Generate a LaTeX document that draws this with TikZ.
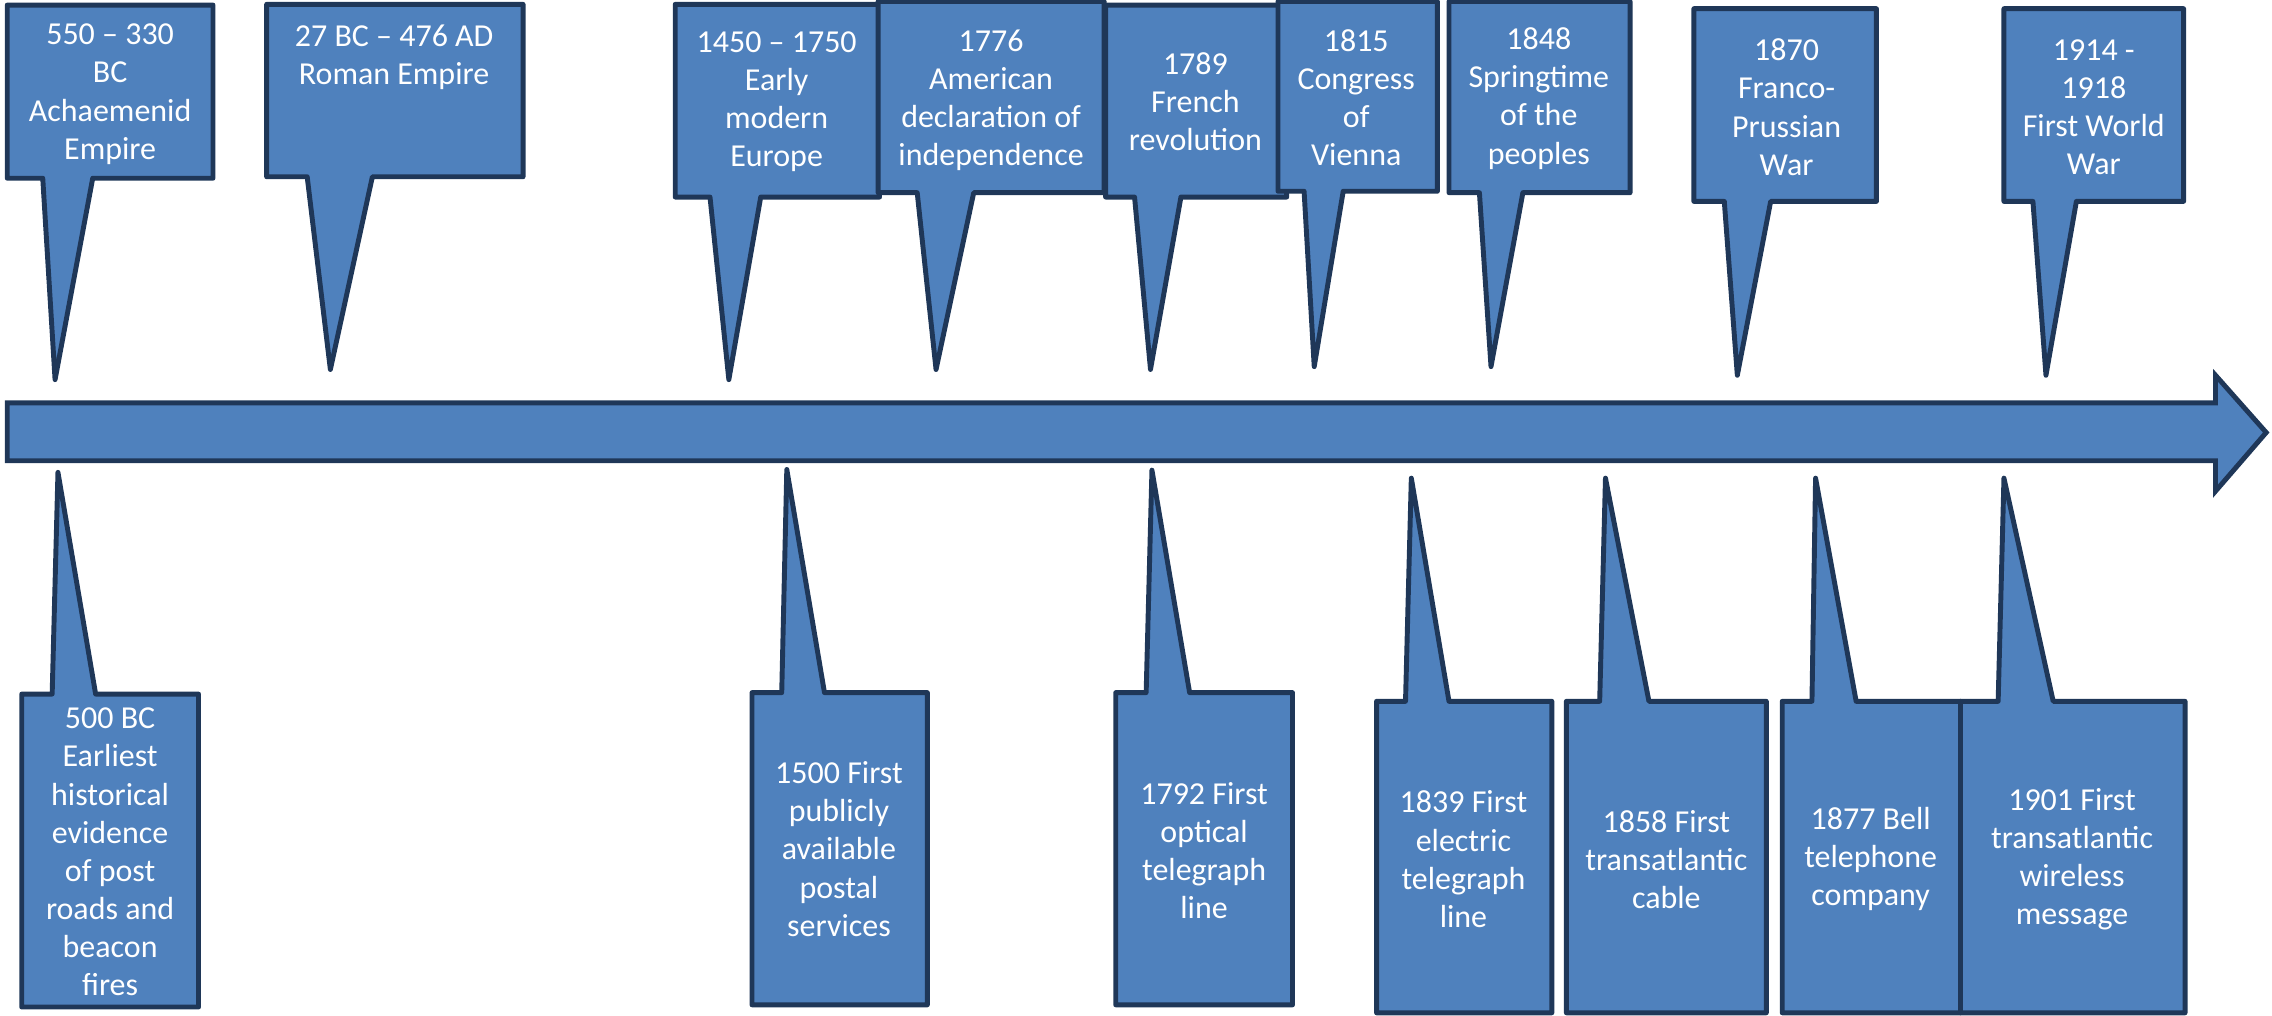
\documentclass[tikz,border=0pt]{standalone}
\usepackage{fontspec}
\setmainfont{Carlito}
\usetikzlibrary{positioning}

\definecolor{calblue}{HTML}{4F81BD}
\definecolor{calline}{HTML}{1F3758}

\begin{document}
\begin{tikzpicture}[
    x=0.01449cm, y=-0.01449cm,
    callout/.style={draw=calline, fill=calblue, line width=1.4pt, line join=round},
    timeline/.style={draw=calline, fill=calblue, line width=1.4pt, line join=miter},
    lbl/.style={text=white, align=center, inner sep=0pt,
                font=\fontsize{9.1}{10.85}\selectfont},
]
    \useasboundingbox (0,0) rectangle (1568,701);

    %==================== TIMELINE ARROW ====================
    \draw[timeline] (5,278) -- (1529,278) -- (1529,259) -- (1564,298.5)
        -- (1529,339) -- (1529,318) -- (5,318) -- cycle;

    %==================== TOP: history ====================
    \draw[callout] (5,3.5) -- (147,3.5) -- (147,123) -- (64,123) -- (38,262)
        -- (29.5,123) -- (5,123) -- cycle;
    \node[lbl] (achaemenid) at (76,65) {550 – 330\\BC\\Achaemenid\\Empire};

    \draw[callout] (184,3) -- (361,3) -- (361,122) -- (257,122) -- (228,255)
        -- (212,122) -- (184,122) -- cycle;
    \node[lbl] (roman) at (272,39.5) {27 BC – 476 AD\\Roman Empire};

    \draw[callout] (466,3) -- (607,3) -- (607,136) -- (525,136) -- (503,262)
        -- (490,136) -- (466,136) -- cycle;
    \node[lbl] (earlymodern) at (536,70) {1450 – 1750\\Early\\modern\\Europe};

    \draw[callout] (606,1) -- (762,1) -- (762,133) -- (672,133) -- (646,255)
        -- (633,133) -- (606,133) -- cycle;
    \node[lbl] (independence) at (684,69)
        {1776\\American\\declaration of\\independence};

    \draw[callout] (763,3.5) -- (888,3.5) -- (888,136) -- (815,136) -- (794,255)
        -- (783,136) -- (763,136) -- cycle;
    \node[lbl] (revolution) at (825,70) {1789\\French\\revolution};

    \draw[callout] (882,1) -- (992,1) -- (992,132) -- (927,132) -- (907,253)
        -- (900,132) -- (882,132) -- cycle;
    \node[lbl] (vienna) at (936,67.5) {1815\\Congress\\of\\Vienna};

    \draw[callout] (1000,1) -- (1125,1) -- (1125,133) -- (1051,133) -- (1029,253)
        -- (1021,133) -- (1000,133) -- cycle;
    \node[lbl] (springtime) at (1062,68) {1848\\Springtime\\of the\\peoples};

    \draw[callout] (1169,6) -- (1295,6) -- (1295,139) -- (1222,139) -- (1199,259)
        -- (1190,139) -- (1169,139) -- cycle;
    \node[lbl] (francoprussian) at (1233,74) {1870\\Franco-\\Prussian\\War};

    \draw[callout] (1383,6) -- (1507,6) -- (1507,139) -- (1433,139) -- (1412,259)
        -- (1403,139) -- (1383,139) -- cycle;
    \node[lbl] (worldwar) at (1445,74) {1914 -\\1918\\First World\\War};

    %==================== BOTTOM: communication ====================
    \draw[callout] (15,479) -- (36,479) -- (40,326) -- (66,479) -- (137,479)
        -- (137,695) -- (15,695) -- cycle;
    \node[lbl] (postroads) at (76,588)
        {500 BC\\Earliest\\historical\\evidence\\of post\\roads and\\beacon\\fires};

    \draw[callout] (519,478) -- (539.5,478) -- (543,324) -- (569,478) -- (640,478)
        -- (640,693.5) -- (519,693.5) -- cycle;
    \node[lbl] (postal) at (579,586)
        {1500 First\\publicly\\available\\postal\\services};

    \draw[callout] (770,478) -- (791,478) -- (795,324.5) -- (821,478) -- (892,478)
        -- (892,693.5) -- (770,693.5) -- cycle;
    \node[lbl] (optical) at (831,587) {1792 First\\optical\\telegraph\\line};

    \draw[callout] (950,484) -- (970,484) -- (974,330) -- (1000,484) -- (1071,484)
        -- (1071,699) -- (950,699) -- cycle;
    \node[lbl] (electric) at (1010,593) {1839 First\\electric\\telegraph\\line};

    \draw[callout] (1081,484) -- (1104,484) -- (1108,330) -- (1138,484) -- (1219,484)
        -- (1219,699) -- (1081,699) -- cycle;
    \node[lbl] (cable) at (1150,593) {1858 First\\transatlantic\\cable};

    \draw[callout] (1230,484) -- (1250.5,484) -- (1253,330) -- (1281,484) -- (1353,484)
        -- (1353,699) -- (1230,699) -- cycle;
    \node[lbl] (telephone) at (1291,593) {1877 Bell\\telephone\\company};

    \draw[callout] (1353,484) -- (1379,484) -- (1383,330) -- (1417,484) -- (1508,484)
        -- (1508,699) -- (1353,699) -- cycle;
    \node[lbl] (wireless) at (1430,593)
        {1901 First\\transatlantic\\wireless\\message};

\end{tikzpicture}
\end{document}
